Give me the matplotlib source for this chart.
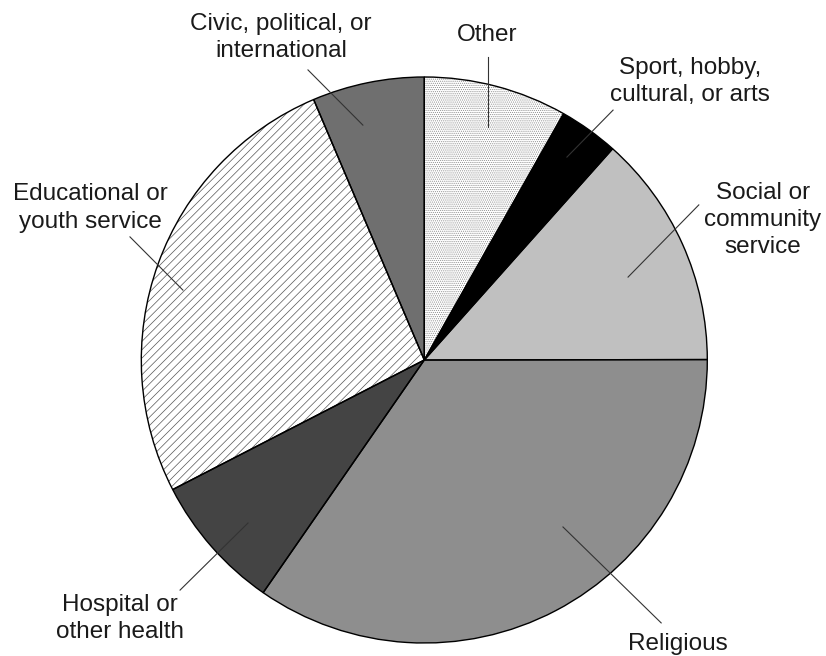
# Pie chart of volunteer organisation types

import matplotlib
matplotlib.use('Agg')
import matplotlib.pyplot as plt

plt.rcParams['font.family'] = ['Liberation Sans', 'DejaVu Sans']
plt.rcParams['hatch.linewidth'] = 0.5

# data, clockwise from 12 o'clock (percent)
categories = ['Other', 'Sport, hobby,\ncultural, or arts', 'Social or\ncommunity\nservice',
              'Religious', 'Hospital or\nother health', 'Educational or\nyouth service',
              'Civic, political, or\ninternational']
shares = [8.2, 3.4, 13.4, 34.7, 7.8, 26.2, 6.4]

# styling for each wedge
face_colors = ['white', 'black', '#c0c0c0', '#8e8e8e', '#444444', 'white', '#6f6f6f']
hatches = ['........', None, None, None, None, '////', None]
hatch_colors = ['#8a8a8a', 'black', '#c0c0c0', '#8e8e8e', '#444444', '#555555', '#6f6f6f']

# leader lines (inner end, outer end) and label centres, in pie-radius units
leader_lines = [((0.225, 0.823), (0.225, 1.071)),
                ((0.504, 0.717), (0.667, 0.883)),
                ((0.720, 0.293), (0.970, 0.548)),
                ((0.490, -0.590), (0.837, -0.929)),
                ((-0.623, -0.576), (-0.863, -0.813)),
                ((-0.853, 0.247), (-1.040, 0.435)),
                ((-0.217, 0.830), (-0.411, 1.025))]
label_pos = [(0.221, 1.148), (0.939, 0.985), (1.196, 0.495), (0.896, -1.003),
             (-1.075, -0.912), (-1.181, 0.537), (-0.506, 1.141)]

fig = plt.figure(figsize=(8.26, 6.56), dpi=100)
ax = fig.add_axes([0, 0, 1, 1])

# fill + hatch pass
wedges, _ = ax.pie(shares, startangle=90, counterclock=False, radius=1,
                   colors=face_colors, wedgeprops=dict(linewidth=0))
for w, h, hc in zip(wedges, hatches, hatch_colors):
    if h:
        w.set_hatch(h)
        w.set_edgecolor(hc)
        w.set_linewidth(0)

# outline pass
ax.pie(shares, startangle=90, counterclock=False, radius=1,
       colors=['none'] * len(shares),
       wedgeprops=dict(linewidth=1.0, edgecolor='black', fill=False))

for (p0, p1), (lx, ly), lab in zip(leader_lines, label_pos, categories):
    ax.plot([p0[0], p1[0]], [p0[1], p1[1]], color='#333333', linewidth=0.8)
    ax.text(lx, ly, lab, ha='center', va='center', fontsize=17.5,
            color='#1a1a1a', linespacing=1.3)

ax.set_xlim(-424.3 / 283, (826 - 424.3) / 283)
ax.set_ylim(-(656 - 360) / 283, 360 / 283)
ax.set_aspect('equal')
ax.axis('off')

fig.savefig('out.png', dpi=100)
